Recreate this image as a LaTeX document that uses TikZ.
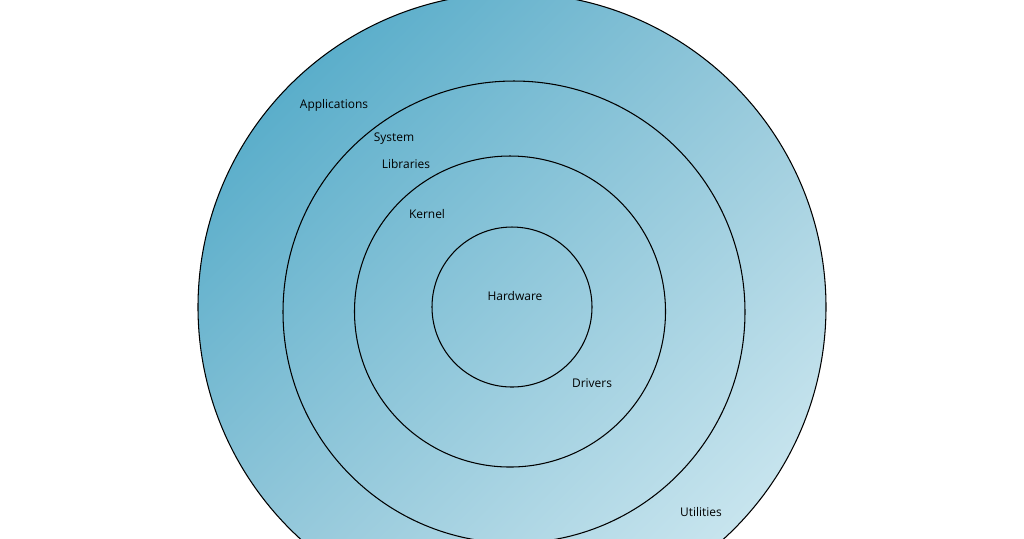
\documentclass[tikz,border=0pt]{standalone}
\usepackage{fontspec}
\usetikzlibrary{shadings}
\setmainfont{Open Sans}
\definecolor{cUL}{RGB}{66,163,196}
\definecolor{cMid}{RGB}{150,200,218}
\definecolor{cLR}{RGB}{220,240,246}
\begin{document}
\begin{tikzpicture}[x=0.01cm,y=-0.01cm,
  ring/.style={draw=black,line width=0.3pt},
  lbl/.style={font=\fontsize{3.4}{4}\selectfont,inner sep=0pt}]
\useasboundingbox (0,0) rectangle (1024,538);
\clip (0,0) rectangle (1024,538);
\begin{scope}
\clip (512,307) circle (314);
\shade[upper left=cUL, upper right=cMid, lower left=cMid, lower right=cLR]
  (198,-7) rectangle (826,621);
\end{scope}
\draw[ring] (512,307) circle (314);
\draw[ring] (514,312) circle (231);
\draw[ring] (510,311.5) circle (155.5);
\draw[ring] (512,307) circle (80);
\node[lbl] (app) at (334,105) {Applications};
\node[lbl] (sys) at (394,139) {System};
\node[lbl] (lib) at (406,164) {Libraries};
\node[lbl] (ker) at (427,214) {Kernel};
\node[lbl] (hw) at (515,296) {Hardware};
\node[lbl] (drv) at (592,383) {Drivers};
\node[lbl] (utl) at (701,512) {Utilities};
\end{tikzpicture}
\end{document}
